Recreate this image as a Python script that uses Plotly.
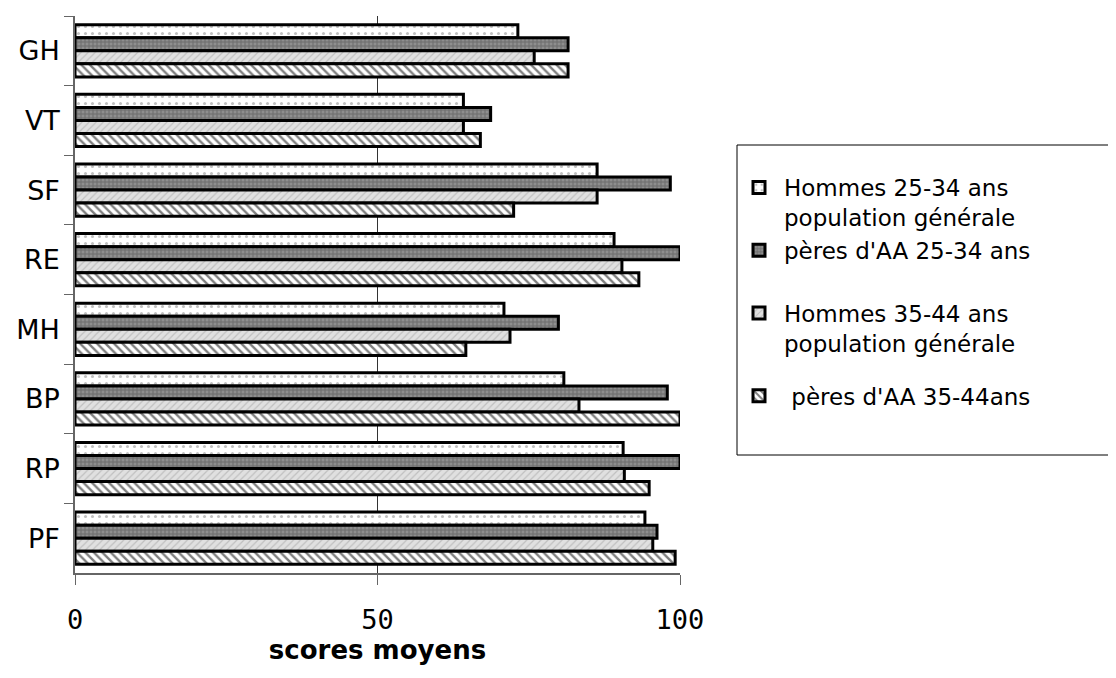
import plotly.graph_objects as go

categories = ["GH", "VT", "SF", "RE", "MH", "BP", "RP", "PF"]
series_names = [
    "Hommes 25-34 ans<br>population générale",
    "pères d'AA 25-34 ans<br> ",
    "Hommes 35-44 ans<br>population générale",
    " pères d'AA 35-44ans",
]
hommes_25_34 = [73.2, 64.2, 86.3, 89.1, 70.9, 80.8, 90.6, 94.2]
peres_25_34 = [81.5, 68.7, 98.4, 100.0, 79.9, 97.9, 100.0, 96.2]
hommes_35_44 = [75.9, 64.2, 86.3, 90.4, 71.9, 83.3, 90.8, 95.5]
peres_35_44 = [81.5, 67.0, 72.5, 93.2, 64.6, 100.0, 94.9, 99.2]
x_ticks = [0, 50, 100]

values = [hommes_25_34, peres_25_34, hommes_35_44, peres_35_44]
styles = [
    dict(color="#ffffff", pattern=dict(shape=".", bgcolor="#ffffff", fgcolor="#808080", size=7, solidity=0.15)),
    dict(color="#8a8a8a", pattern=dict(shape="+", bgcolor="#8e8e8e", fgcolor="#4a4a4a", size=4, solidity=0.45)),
    dict(color="#dcdcdc", pattern=dict(shape="/", bgcolor="#e0e0e0", fgcolor="#a0a0a0", size=5, solidity=0.25)),
    dict(color="#ffffff", pattern=dict(shape="\\", bgcolor="#ffffff", fgcolor="#000000", size=6, solidity=0.4)),
]
groups = ["a", "a", "a", "b"]

# page has an 8px body margin: figure coords = page coords - 8
OFF = 8
W, H = 1116 - OFF, 678 - OFF
PL, PR, PT, PB = 75 - OFF, 680 - OFF, 16 - OFF, 573 - OFF
pw, ph = PR - PL, PB - PT


def px(xp):
    return (xp - OFF - PL) / pw


def py(yp):
    return (PB - (yp - OFF)) / ph


fig = go.Figure()
for name, vals, st, g in zip(series_names, values, styles, groups):
    fig.add_trace(go.Bar(
        y=categories, x=vals, name=name, orientation="h",
        legendgroup=g,
        marker=dict(color=st["color"], pattern=st["pattern"],
                    line=dict(color="#000000", width=3)),
    ))

fig.update_layout(
    width=W, height=H,
    margin=dict(l=PL, r=W - PR, t=PT, b=H - PB, autoexpand=False),
    paper_bgcolor="white", plot_bgcolor="white",
    barmode="group", bargap=0.25, bargroupgap=0,
    showlegend=True,
    legend=dict(
        x=px(734), xanchor="left",
        y=py(166), yanchor="top",
        valign="top", itemwidth=40,
        bgcolor="rgba(0,0,0,0)", borderwidth=0,
        tracegroupgap=20,
        font=dict(family="DejaVu Sans", size=23, color="#000000"),
        traceorder="grouped",
    ),
    shapes=[dict(type="rect", xref="paper", yref="paper",
                 x0=px(737), x1=px(1140),
                 y0=py(455), y1=py(145),
                 line=dict(color="#000000", width=1), fillcolor="rgba(0,0,0,0)", layer="below")],
    xaxis=dict(
        range=[0, 100], tickvals=x_ticks, ticktext=[str(v) for v in x_ticks],
        showgrid=True, gridcolor="#333333", gridwidth=1, zeroline=False,
        showline=True, linecolor="#666666", linewidth=2,
        ticks="outside", ticklen=10, tickcolor="#666666",
        tickfont=dict(family="DejaVu Sans Mono", size=27, color="#000000"),
        ticklabelstandoff=12,
        title=dict(text="<b>scores moyens</b>", standoff=6,
                   font=dict(family="DejaVu Sans", size=26, color="#000000")),
    ),
    yaxis=dict(
        categoryorder="array", categoryarray=categories, autorange="reversed",
        showline=True, linecolor="#666666", linewidth=1.5,
        ticks="outside", ticklen=9, tickcolor="#666666", tickson="boundaries",
        showgrid=False,
        tickfont=dict(family="DejaVu Sans", size=27, color="#000000"),
        ticklabelstandoff=8,
    ),
)

fig.write_html("out.html")
